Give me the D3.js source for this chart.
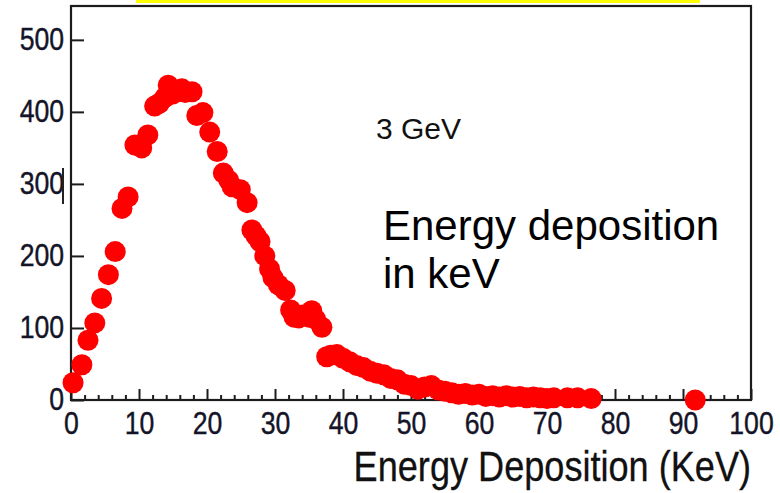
<!DOCTYPE html>
<html>
<head>
<meta charset="utf-8">
<script src="https://cdn.jsdelivr.net/npm/d3@7"></script>
<style>
  body { margin: 0; background: #fff; }
  svg text { font-family: "Liberation Sans", Arial, sans-serif; }
</style>
</head>
<body>
<svg id="chart" width="780" height="493"></svg>
<script>
// energy deposition bins (keV) and entries
let energy = [0.3, 1.6, 2.5, 3.5, 4.5, 5.5, 6.5, 7.5, 8.4, 9.4, 10.4, 11.3, 12.3, 13.0, 13.8, 14.3, 15.0, 15.6, 16.3, 16.8,
  17.8, 18.5, 19.4, 20.4, 21.5, 22.4, 23.2, 23.7, 24.9, 25.9, 26.6, 27.2, 27.8, 28.5, 29.2, 29.7, 30.5, 31.5, 32.3, 32.8,
  33.5, 34.1, 35.0, 35.4, 36.0, 36.9, 37.6, 38.2, 39.1, 40, 41, 42, 43, 44, 45, 46, 47, 48, 49, 50,
  51, 52, 53, 54, 55, 56, 57, 58, 59, 60, 61, 62, 63, 64, 65, 66, 67, 68, 69, 70,
  71, 73, 74.5, 76.5, 91.8];
let counts = [24, 49, 83, 107, 141, 174, 206, 266, 282, 354, 350, 368, 408, 412, 420, 437, 425, 428, 432, 427,
  428, 395, 399, 372, 345, 315, 305, 296, 292, 274, 236, 228, 220, 200, 182, 170, 160, 152, 125, 115,
  114, 118, 115, 124, 112, 101, 60, 62, 63, 58, 53, 48, 45, 40, 37, 35, 30, 28, 22, 20,
  15, 18, 20, 14, 12, 10, 8, 9, 7, 8, 5, 6, 4, 6, 4, 5, 3, 4, 3, 2,
  3, 3, 3, 2, 0];

let xMajor = [0, 10, 20, 30, 40, 50, 60, 70, 80, 90, 100];
let xMinor = d3.range(0, 101, 2).filter(v => v % 10 !== 0);
let yTicks = [0, 100, 200, 300, 400, 500];

let xTitle = "Energy Deposition (KeV)";
let noteBeam = "3 GeV";
let noteLines = ["Energy deposition", "in keV"];

let svg = d3.select("#chart");

let x = d3.scaleLinear().domain([0, 100]).range([71, 751]);
let y = d3.scaleLinear().domain([0, 547]).range([400, 6]);

// yellow strip at the very top
svg.append("rect")
  .attr("x", 136).attr("y", 0)
  .attr("width", 564).attr("height", 3)
  .attr("fill", "#ffff00");

// frame
svg.append("rect")
  .attr("x", x(0)).attr("y", y(547))
  .attr("width", x(100) - x(0)).attr("height", y(0) - y(547))
  .attr("fill", "none")
  .attr("stroke", "#1c1c1c")
  .attr("stroke-width", 2.2);

let labelFont = 31;

// x axis: major ticks
let xAxis = svg.append("g")
  .attr("transform", "translate(0," + y(0) + ")")
  .call(d3.axisBottom(x).tickValues(xMajor).tickSize(-11).tickPadding(12).tickFormat(d3.format("d")));

// x axis: minor ticks
let xMinorAxis = svg.append("g")
  .attr("transform", "translate(0," + y(0) + ")")
  .call(d3.axisBottom(x).tickValues(xMinor).tickSize(-5).tickFormat(""));

// y axis
let yAxis = svg.append("g")
  .attr("transform", "translate(" + x(0) + ",0)")
  .call(d3.axisLeft(y).tickValues(yTicks).tickSize(-13).tickPadding(8).tickFormat(d3.format("d")));

[xAxis, xMinorAxis, yAxis].forEach(g => {
  g.select(".domain").remove();
  g.selectAll(".tick line").attr("stroke", "#1c1c1c").attr("stroke-width", 2);
  g.selectAll(".tick text")
    .attr("fill", "#141428")
    .style("font-size", labelFont + "px")
    .attr("stroke", "#141428")
    .attr("stroke-width", 0.4)
    .attr("transform", "scale(0.86,1)");
});

// stray cursor mark next to the 300 label
svg.append("line")
  .attr("x1", 63).attr("x2", 63)
  .attr("y1", y(300) - 16).attr("y2", y(300) + 20)
  .attr("stroke", "#222").attr("stroke-width", 2);

// data points
svg.append("g")
  .selectAll("circle")
  .data(energy.map((e, i) => ({ e: e, c: counts[i] })))
  .enter()
  .append("circle")
  .attr("cx", d => x(d.e))
  .attr("cy", d => y(d.c))
  .attr("r", 10.5)
  .attr("fill", "#ff0000");

// axis title
svg.append("text")
  .attr("transform", "translate(751,481) scale(0.86,1)")
  .attr("text-anchor", "end")
  .style("font-size", "42px")
  .attr("fill", "#111")
  .attr("stroke", "#111")
  .attr("stroke-width", 0.3)
  .text(xTitle);

// annotations
svg.append("text")
  .attr("x", 376).attr("y", 139)
  .style("font-size", "30px")
  .attr("fill", "#111")
  .text(noteBeam);

svg.append("text")
  .selectAll("tspan")
  .data(noteLines)
  .enter()
  .append("tspan")
  .attr("x", 383)
  .attr("y", (d, i) => 240 + i * 48)
  .style("font-size", "42px")
  .attr("fill", "#000")
  .text(d => d);
</script>
</body>
</html>
